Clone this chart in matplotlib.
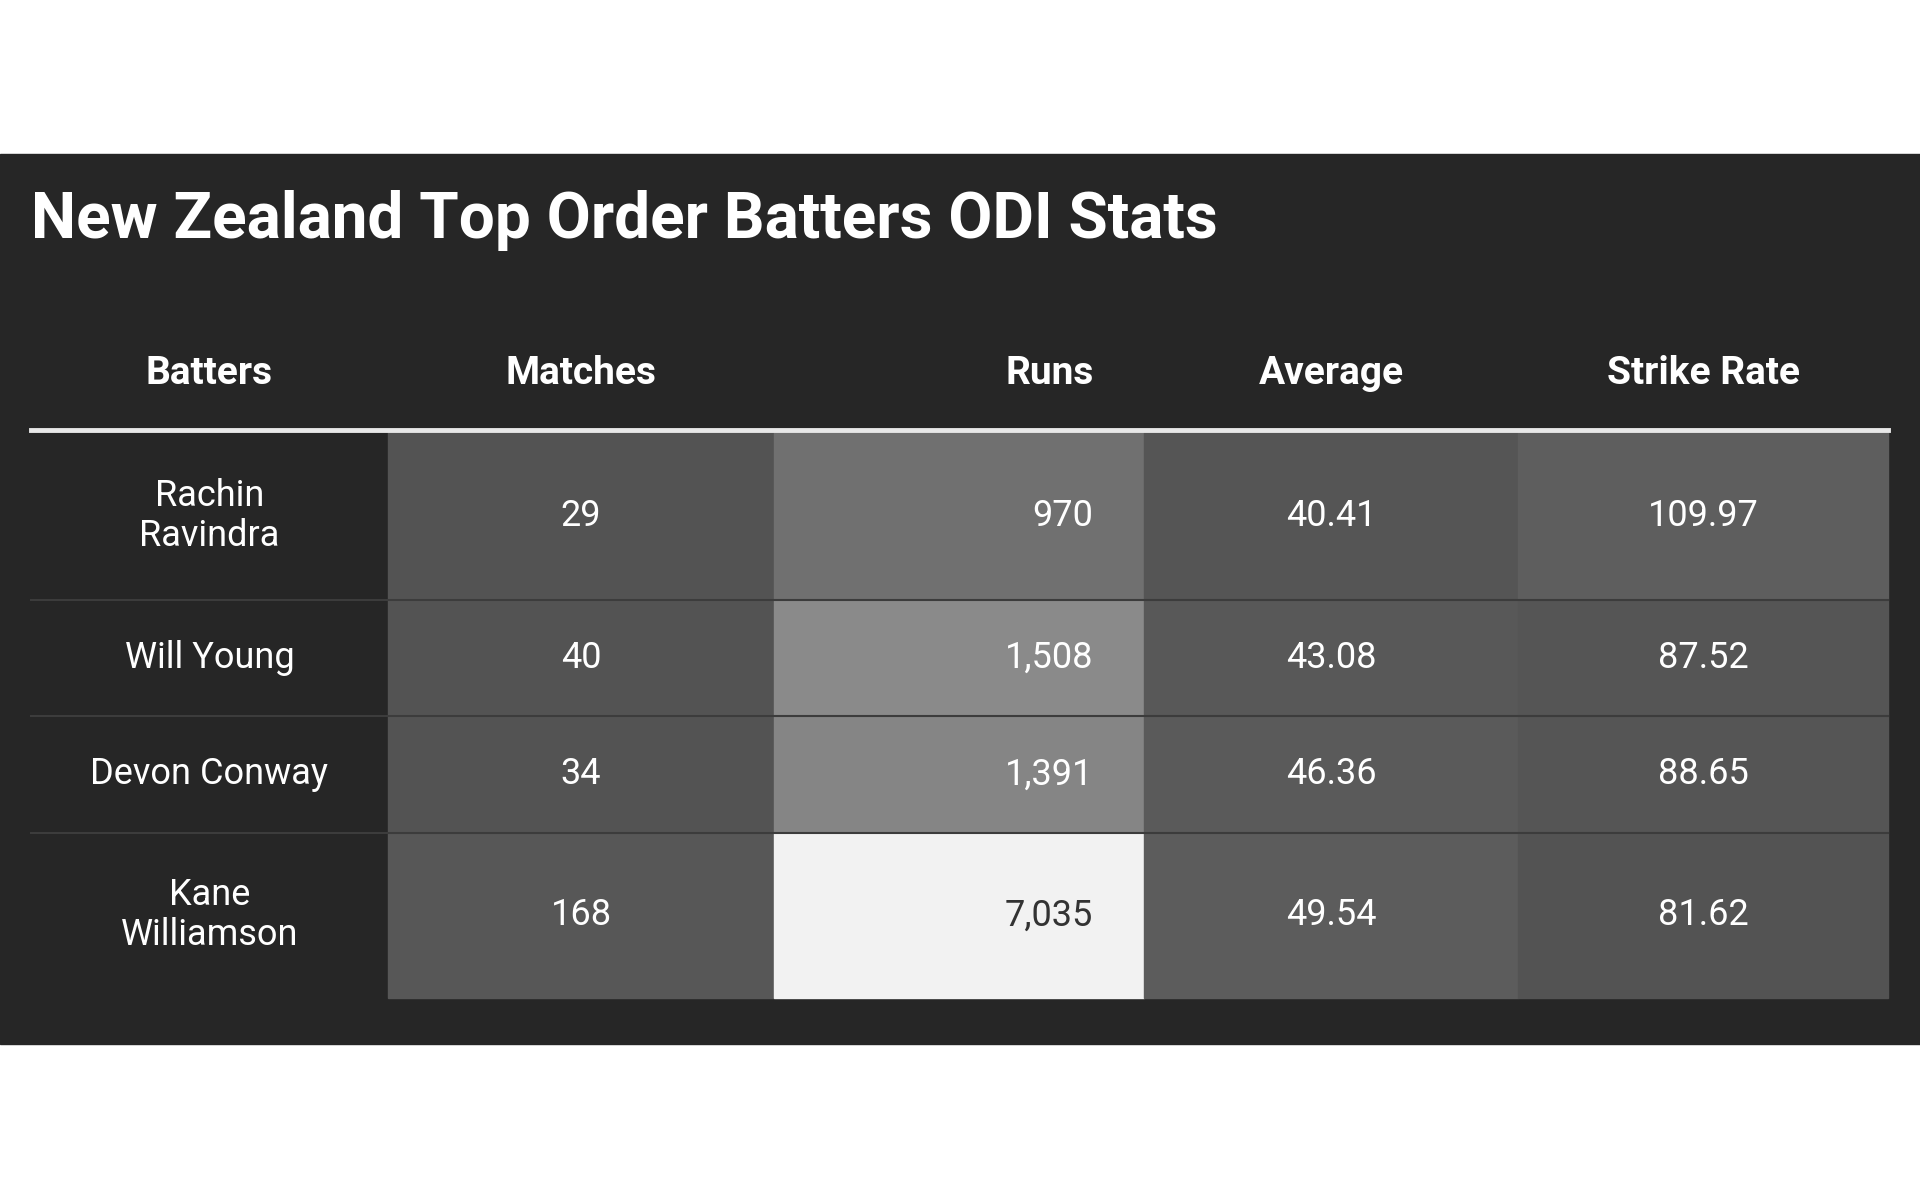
import matplotlib
matplotlib.use("Agg")
import matplotlib.pyplot as plt
from matplotlib.patches import Rectangle

title = "New Zealand Top Order Batters ODI Stats"
columns = ["Batters", "Matches", "Runs", "Average", "Strike Rate"]
batters = ["Rachin\nRavindra", "Will Young", "Devon Conway", "Kane\nWilliamson"]
matches = [29, 40, 34, 168]
runs = [970, 1508, 1391, 7035]
average = [40.41, 43.08, 46.36, 49.54]
strike_rate = [109.97, 87.52, 88.65, 81.62]

# cell shades (grey level) per column
match_shade = ["#535353", "#535353", "#535353", "#575757"]
runs_shade = ["#707070", "#8a8a8a", "#858585", "#f2f2f2"]
avg_shade = ["#555555", "#585858", "#5a5a5a", "#5c5c5c"]
sr_shade = ["#5e5e5e", "#555555", "#555555", "#535353"]

plt.rcParams['font.family'] = ['Roboto', 'DejaVu Sans']
fig = plt.figure(figsize=(19.2, 12), dpi=100)
ax = fig.add_axes([0, 0, 1, 1])
ax.set_xlim(0, 1568); ax.set_ylim(980, 0); ax.axis('off')
panel = "#262626"
ax.add_patch(Rectangle((0, 126), 1568, 727, color=panel, zorder=0))
ax.text(25, 180, title, color="white", fontsize=46, fontweight='bold', va='center', ha='left')

colx = [25, 317, 632, 934, 1240, 1542]
rowy = [353, 490, 585, 680, 815]
hdr_y = 305
for i, c in enumerate(columns):
    if c == "Runs":
        ax.text(893, hdr_y, c, color="white", fontsize=28, fontweight='bold', ha='right', va='center')
    else:
        ax.text((colx[i] + colx[i+1]) / 2, hdr_y, c, color="white", fontsize=28, fontweight='bold', ha='center', va='center')
ax.plot([25, 1542], [351, 351], color="#e8e8e8", lw=3.5, zorder=5)

shades = [None, match_shade, runs_shade, avg_shade, sr_shade]
for r in range(4):
    y0, y1 = rowy[r], rowy[r+1]
    yc = (y0 + y1) / 2
    vals = [batters[r], str(matches[r]), f"{runs[r]:,}", f"{average[r]:.2f}", f"{strike_rate[r]:.2f}"]
    for c in range(5):
        x0, x1 = colx[c], colx[c+1]
        if shades[c] is not None:
            ax.add_patch(Rectangle((x0, y0), x1 - x0, y1 - y0, color=shades[c][r], zorder=1))
        col = "white"
        if shades[c] is not None and int(shades[c][r][1:3], 16) > 0xc0:
            col = "#333333"
        if c == 2:
            ax.text(893, yc, vals[c], color=col, fontsize=26, ha='right', va='center', zorder=3)
        else:
            ax.text((x0 + x1) / 2, yc, vals[c], color=col, fontsize=26, ha='center', va='center',
                    linespacing=1.15, zorder=3)
    if r < 3:
        ax.plot([25, 1542], [y1, y1], color="#3c3c3c", lw=1.5, zorder=2)

fig.savefig("out.png", dpi=100, facecolor="white")
